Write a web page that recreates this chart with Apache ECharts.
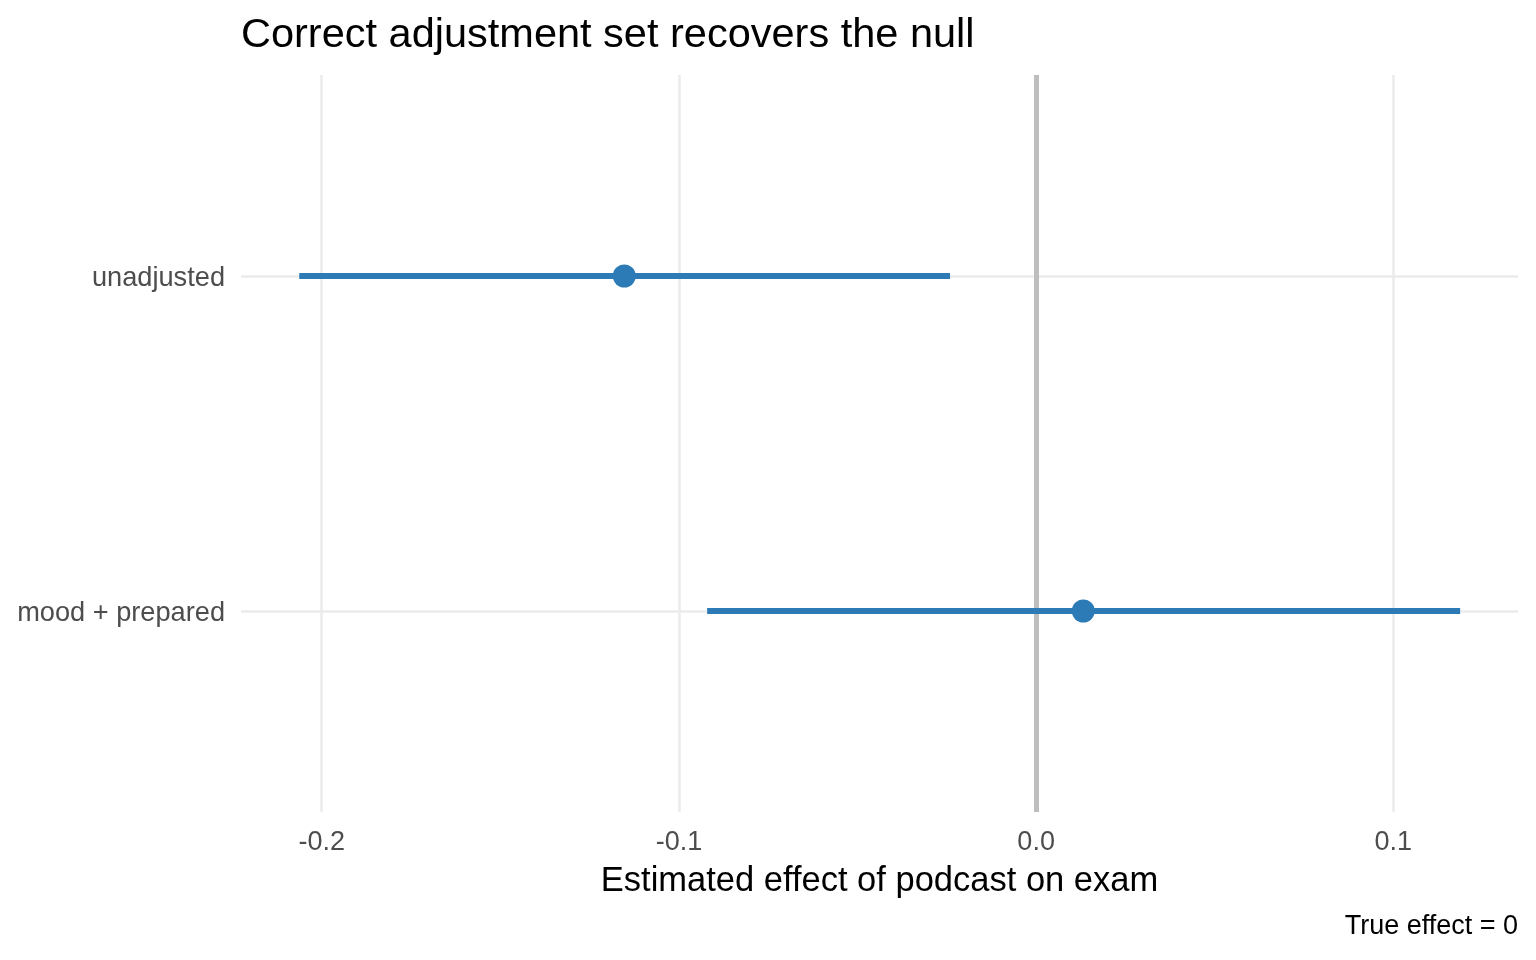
<!DOCTYPE html>
<html>
<head>
<meta charset="utf-8">
<script src="https://cdn.jsdelivr.net/npm/echarts@6/dist/echarts.min.js"></script>
<style>
html,body{margin:0;padding:0;background:#fff;}
#chart{width:1536px;height:960px;}
</style>
</head>
<body>
<div id="chart"></div>
<script>
// Data (bottom to top order on y: index 1 = bottom, 2 = top)
const models = ['mood + prepared', 'unadjusted'];
const estimates = [0.0132, -0.1153];
const lower = [-0.0921, -0.2063];
const upper = [0.1187, -0.0241];
const xTicks = [-0.2, -0.1, 0.0, 0.1];
const trueEffect = 0;

const FONT = '"Liberation Sans", Arial, sans-serif';
const BLUE = '#2C7BB6';

const yPos = models.map((m, i) => i + 1);
const pointData = models.map((m, i) => [estimates[i], yPos[i]]);
const barData = models.map((m, i) => [lower[i], upper[i], yPos[i]]);

const chart = echarts.init(document.getElementById('chart'), null, {renderer: 'canvas'});
chart.setOption({
  animation: false,
  backgroundColor: '#ffffff',
  grid: {left: 241, right: 18, top: 75, bottom: 148, containLabel: false},
  xAxis: {
    type: 'value',
    min: -0.2226, max: 0.1349,
    axisLine: {show: false},
    axisTick: {show: false, customValues: xTicks},
    splitLine: {show: false},
    axisLabel: {
      customValues: xTicks,
      formatter: v => v.toFixed(1),
      color: '#4D4D4D', fontSize: 27, fontFamily: FONT,
      margin: 31, verticalAlign: 'middle'
    },
    name: 'Estimated effect of podcast on exam',
    nameLocation: 'middle',
    nameGap: 69,
    nameTextStyle: {color: '#000', fontSize: 34.5, fontFamily: FONT, verticalAlign: 'middle'}
  },
  yAxis: {
    type: 'value',
    min: 0.4, max: 2.6,
    axisLine: {show: false},
    axisTick: {show: false, customValues: yPos},
    splitLine: {show: false},
    axisLabel: {
      customValues: yPos,
      formatter: v => '{l|' + (models[Math.round(v) - 1] || '') + '}',
      margin: 16, verticalAlign: 'middle', align: 'right',
      rich: {
        l: {color: '#4D4D4D', fontSize: 27.2, fontFamily: FONT, padding: [5, 0, 0, 0]}
      }
    }
  },
  graphic: [
    {type: 'text', left: 241, top: 15, z: 100,
     style: {text: 'Correct adjustment set recovers the null', fill: '#000', font: '41.5px ' + FONT}},
    {type: 'text', right: 18, top: 913, z: 100,
     style: {text: 'True effect = ' + trueEffect, fill: '#000', font: '27px ' + FONT}}
  ],
  series: [
    {
      type: 'scatter', data: [], z: 1, silent: true,
      markLine: {
        z: 1, silent: true, symbol: 'none', label: {show: false},
        lineStyle: {color: '#EBEBEB', width: 2.5, type: 'solid'},
        data: xTicks.filter(v => v !== trueEffect).map(v => ({xAxis: v}))
          .concat(yPos.map(v => ({yAxis: v})))
      }
    },
    {
      type: 'scatter', data: [], z: 2, silent: true,
      markLine: {
        z: 2, silent: true, symbol: 'none', label: {show: false},
        lineStyle: {color: '#BEBEBE', width: 5, type: 'solid'},
        data: [{xAxis: trueEffect}]
      }
    },
    {
      type: 'custom', z: 10, silent: true,
      data: barData,
      renderItem: function (params, api) {
        const p1 = api.coord([api.value(0), api.value(2)]);
        const p2 = api.coord([api.value(1), api.value(2)]);
        const h = 6;
        return {
          type: 'rect',
          shape: {x: p1[0], y: p1[1] - h / 2, width: p2[0] - p1[0], height: h},
          style: {fill: BLUE, stroke: null}
        };
      },
      encode: {x: [0, 1], y: 2}
    },
    {
      type: 'scatter', z: 11, silent: true,
      data: pointData,
      symbol: 'circle', symbolSize: 23,
      itemStyle: {color: BLUE, opacity: 1}
    }
  ]
});
</script>
</body>
</html>
